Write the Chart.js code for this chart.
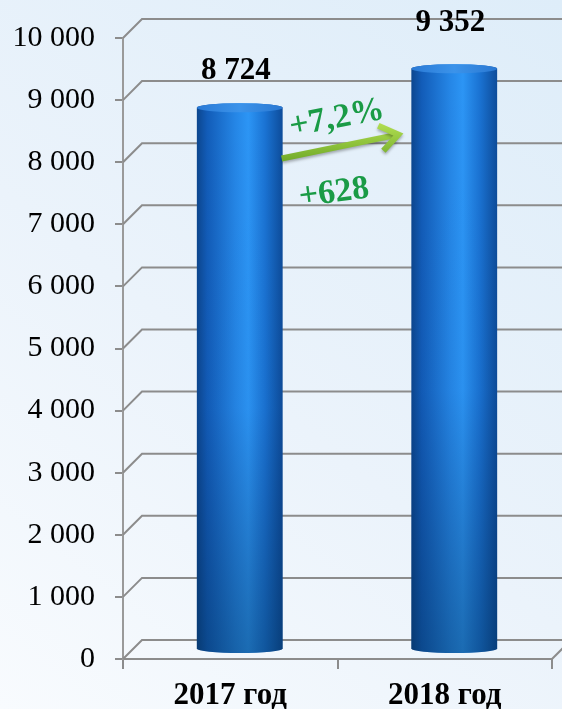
<!DOCTYPE html>
<html>
<head>
<meta charset="utf-8">
<script src="https://cdn.jsdelivr.net/npm/chart.js@4/dist/chart.umd.min.js"></script>
<style>
  html, body { margin: 0; padding: 0; background: #eaf3fb; }
  #wrap { width: 562px; height: 709px; }
</style>
</head>
<body>
<div id="wrap"><canvas id="chart" width="562" height="709"></canvas></div>
<script>
const years = ["2017 год", "2018 год"];
const values = [8724, 9352];
const growthPct = "+7,2%";
const growthAbs = "+628";
const yTicks = [0, 1000, 2000, 3000, 4000, 5000, 6000, 7000, 8000, 9000, 10000];

const SERIF = "'Liberation Serif', 'Times New Roman', serif";
const GRID = "#8c8c8c";
const DEPTH = 19;          // 3d depth offset of back wall, px
const LABEL_LIFT = [24, 33];

function fmt(v) {
  return String(v).replace(/\B(?=(\d{3})+(?!\d))/g, " ");
}

const bgPlugin = {
  id: "bg",
  beforeDraw(chart) {
    const ctx = chart.ctx;
    const g = ctx.createLinearGradient(0, chart.height, chart.width, 0);
    g.addColorStop(0, "#f8fbfe");
    g.addColorStop(0.45, "#ebf3fb");
    g.addColorStop(1, "#deedf9");
    ctx.save();
    ctx.fillStyle = g;
    ctx.fillRect(0, 0, chart.width, chart.height);
    ctx.restore();
  }
};

// back wall / floor grid in perspective
const gridPlugin = {
  id: "grid3d",
  beforeDatasetsDraw(chart) {
    const ctx = chart.ctx;
    const y = chart.scales.y;
    const a = chart.chartArea;
    ctx.save();
    ctx.strokeStyle = GRID;
    ctx.lineWidth = 2;
    yTicks.forEach(v => {
      const py = y.getPixelForValue(v);
      ctx.beginPath();
      ctx.moveTo(a.left, py);
      ctx.lineTo(a.left + DEPTH, py - DEPTH);
      ctx.lineTo(a.right + DEPTH, py - DEPTH);
      ctx.stroke();
    });
    const p0 = y.getPixelForValue(0);
    ctx.beginPath();
    ctx.moveTo(a.right, p0);
    ctx.lineTo(a.right + DEPTH, p0 - DEPTH);
    ctx.stroke();
    ctx.restore();
  }
};

// cylinders, value labels and growth arrow
const cylPlugin = {
  id: "cyl",
  afterDatasetsDraw(chart) {
    const ctx = chart.ctx;
    const meta = chart.getDatasetMeta(0);
    const ys = chart.scales.y;
    const half = DEPTH / 2;
    const ry = 4.5;
    const tops = [];
    meta.data.forEach((bar, i) => {
      const cx = bar.x + half;
      const hw = bar.width / 2;
      const top = bar.y - half;
      const bot = bar.base - half;
      tops.push({ cx, hw, top });

      ctx.save();
      ctx.beginPath();
      ctx.moveTo(cx - hw, top);
      ctx.lineTo(cx - hw, bot);
      ctx.ellipse(cx, bot, hw, ry, 0, Math.PI, 0, true);
      ctx.lineTo(cx + hw, top);
      ctx.ellipse(cx, top, hw, ry, 0, 0, Math.PI, true);
      ctx.closePath();
      const gh = ctx.createLinearGradient(cx - hw, 0, cx + hw, 0);
      gh.addColorStop(0, "#0c468e");
      gh.addColorStop(0.12, "#125cb8");
      gh.addColorStop(0.45, "#2586e6");
      gh.addColorStop(0.6, "#2c95f5");
      gh.addColorStop(0.8, "#1a72d2");
      gh.addColorStop(1, "#0d4c9a");
      ctx.fillStyle = gh;
      ctx.fill();
      const gv = ctx.createLinearGradient(0, top, 0, bot + ry);
      gv.addColorStop(0, "rgba(0,20,60,0)");
      gv.addColorStop(0.55, "rgba(0,20,60,0.03)");
      gv.addColorStop(1, "rgba(0,40,70,0.38)");
      ctx.fillStyle = gv;
      ctx.fill();

      ctx.beginPath();
      ctx.ellipse(cx, top, hw, ry, 0, 0, Math.PI * 2);
      const gt = ctx.createLinearGradient(cx - hw, 0, cx + hw, 0);
      gt.addColorStop(0, "#2a7ad6");
      gt.addColorStop(0.5, "#3b93ea");
      gt.addColorStop(1, "#2a78d2");
      ctx.fillStyle = gt;
      ctx.fill();
      ctx.restore();

      ctx.save();
      ctx.font = "bold 31px " + SERIF;
      ctx.fillStyle = "#000";
      ctx.textAlign = "center";
      ctx.textBaseline = "alphabetic";
      ctx.fillText(fmt(values[i]), cx - 4, top - ry - LABEL_LIFT[i]);
      ctx.restore();
    });

    // growth arrow between bars
    const x0 = tops[0].cx + tops[0].hw - 1;
    const x1 = tops[1].cx - tops[1].hw - 13;
    const y0 = ys.getPixelForValue(8060);
    const y1 = ys.getPixelForValue(8445);
    const ang = Math.atan2(y1 - y0, x1 - x0);
    ctx.save();
    ctx.shadowColor = "rgba(0,0,0,0.3)";
    ctx.shadowBlur = 3;
    ctx.shadowOffsetY = 2;
    const ga = ctx.createLinearGradient(0, y1 - 14, 0, y0 + 10);
    ga.addColorStop(0, "#b6e254");
    ga.addColorStop(1, "#64a021");
    ctx.strokeStyle = ga;
    ctx.lineCap = "butt";
    ctx.lineJoin = "miter";
    ctx.lineWidth = 6;
    ctx.beginPath();
    ctx.moveTo(x0, y0);
    ctx.lineTo(x1 - 3 * Math.cos(ang), y1 - 3 * Math.sin(ang));
    ctx.stroke();
    ctx.lineWidth = 6;
    const arm = 22, spread = 0.62;
    ctx.beginPath();
    ctx.moveTo(x1 - arm * Math.cos(ang - spread), y1 - arm * Math.sin(ang - spread));
    ctx.lineTo(x1, y1);
    ctx.lineTo(x1 - arm * Math.cos(ang + spread), y1 - arm * Math.sin(ang + spread));
    ctx.stroke();
    ctx.restore();

    ctx.save();
    ctx.fillStyle = "#1a9b46";
    ctx.font = "bold 34px " + SERIF;
    ctx.textAlign = "center";
    ctx.textBaseline = "middle";
    ctx.translate((x0 + x1) / 2 - 3, ys.getPixelForValue(8700));
    ctx.rotate(-0.19);
    ctx.fillText(growthPct, 0, 0);
    ctx.restore();

    ctx.save();
    ctx.fillStyle = "#1a9b46";
    ctx.font = "bold 34px " + SERIF;
    ctx.textAlign = "center";
    ctx.textBaseline = "middle";
    ctx.translate((x0 + x1) / 2 - 6, ys.getPixelForValue(7500));
    ctx.rotate(-0.13);
    ctx.fillText(growthAbs, 0, 0);
    ctx.restore();
  }
};

new Chart(document.getElementById("chart"), {
  type: "bar",
  data: {
    labels: years,
    datasets: [{
      data: values,
      backgroundColor: "rgba(0,0,0,0)",
      borderWidth: 0,
      barPercentage: 0.4,
      categoryPercentage: 1.0
    }]
  },
  options: {
    responsive: false,
    animation: false,
    layout: { padding: { top: 37, right: 10, left: 0, bottom: 0 } },
    plugins: { legend: { display: false }, tooltip: { enabled: false } },
    scales: {
      x: {
        afterFit(s) { s.height = 50; },
        grid: { display: true, drawOnChartArea: false, drawTicks: true, tickLength: 10, color: GRID, lineWidth: 2 },
        border: { display: true, color: GRID, width: 2 },
        ticks: {
          padding: 8,
          color: "#000",
          font: { family: SERIF, size: 31, weight: "bold" }
        }
      },
      y: {
        min: 0,
        max: 10000,
        afterFit(s) { s.width = 123; },
        afterBuildTicks(s) { s.ticks = yTicks.map(v => ({ value: v })); },
        grid: { display: true, drawOnChartArea: false, drawTicks: true, tickLength: 8, color: GRID, lineWidth: 2 },
        border: { display: true, color: "#9a9a9a", width: 2 },
        ticks: {
          padding: 20,
          color: "#000",
          font: { family: SERIF, size: 30 },
          callback: v => fmt(v)
        }
      }
    }
  },
  plugins: [bgPlugin, gridPlugin, cylPlugin]
});
</script>
</body>
</html>
